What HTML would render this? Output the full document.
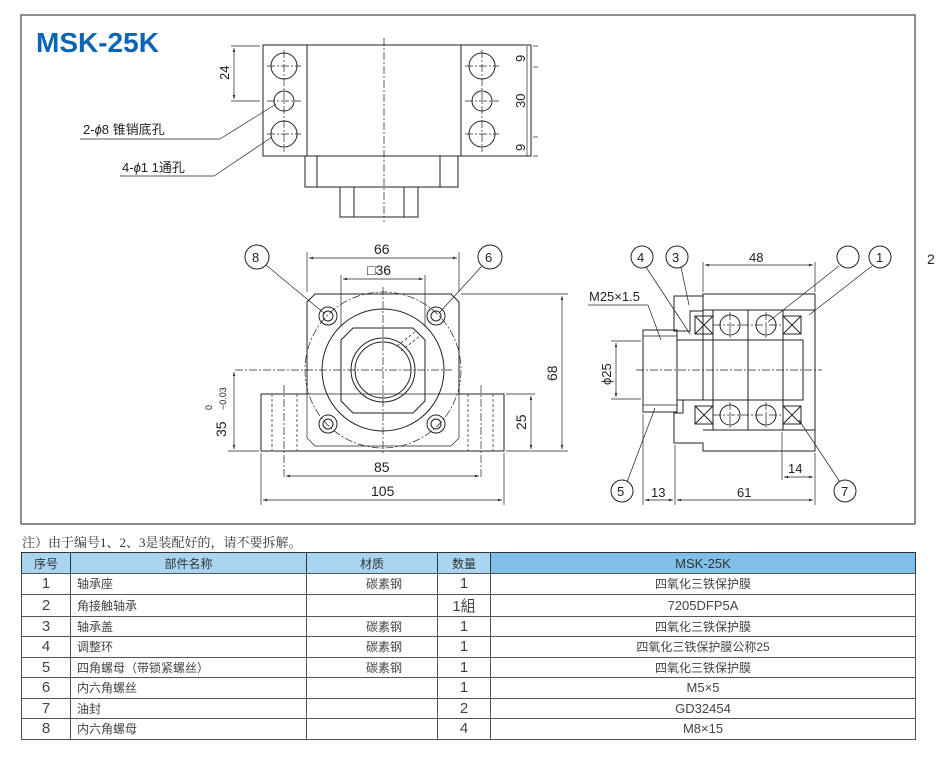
<!DOCTYPE html>
<html><head><meta charset="utf-8"><style>
body{margin:0;background:#fff;width:940px;height:762px;overflow:hidden;font-family:"Liberation Sans","Noto Sans CJK SC",sans-serif}
svg{position:absolute;left:0;top:0}
text{font-family:"Liberation Sans","Noto Sans CJK SC",sans-serif;fill:#222}
.t{stroke:#222;fill:none;stroke-width:1}
.c{stroke:#222;fill:none;stroke-width:0.7;stroke-dasharray:8 2 2 2}
.d{stroke:#222;fill:none;stroke-width:0.7;stroke-dasharray:3 2}
.th{stroke:#222;fill:none;stroke-width:0.7}
</style></head><body>
<svg width="940" height="762" viewBox="0 0 940 762">
<defs><marker id="a" viewBox="0 0 10 10" refX="10" refY="5" markerWidth="6" markerHeight="6" orient="auto-start-reverse"><path d="M0,2 L10,5 L0,8 z" fill="#222"/></marker></defs>
<rect x="21" y="15" width="894" height="509" fill="none" stroke="#444" stroke-width="1.2"/>
<text x="36" y="52" font-size="28" font-weight="bold" fill="#0a66b5" style="fill:#0a66b5">MSK-25K</text>
<text x="927" y="264" font-size="14">2</text>

<!-- top view -->
<rect class="t" x="263" y="45" width="268" height="111"/>
<line class="t" x1="307" y1="45" x2="307" y2="156"/><line class="t" x1="461" y1="45" x2="461" y2="156"/>
<rect class="t" x="305" y="156" width="153" height="31"/>
<line class="t" x1="317" y1="156" x2="317" y2="187"/><line class="t" x1="440" y1="156" x2="440" y2="187"/>
<rect class="t" x="340" y="187" width="78" height="30"/>
<line class="t" x1="354" y1="187" x2="354" y2="217"/><line class="t" x1="404" y1="187" x2="404" y2="217"/>
<line class="c" x1="384" y1="38" x2="384" y2="222"/>
<g class="t">
<circle cx="284" cy="66" r="13"/><circle cx="284" cy="101" r="10"/><circle cx="284" cy="134" r="13"/>
<circle cx="482" cy="66" r="13"/><circle cx="482" cy="101" r="10"/><circle cx="482" cy="134" r="13"/>
</g>
<g class="c"><line x1="284" y1="50" x2="284" y2="152"/><line x1="482" y1="50" x2="482" y2="152"/>
<line x1="267" y1="66" x2="301" y2="66"/><line x1="267" y1="101" x2="301" y2="101"/><line x1="267" y1="134" x2="301" y2="134"/>
<line x1="465" y1="66" x2="499" y2="66"/><line x1="465" y1="101" x2="499" y2="101"/><line x1="465" y1="134" x2="499" y2="134"/></g>
<g class="th"><line x1="231" y1="46" x2="260" y2="46"/><line x1="231" y1="101" x2="260" y2="101"/>
<line x1="234" y1="48" x2="234" y2="99" marker-start="url(#a)" marker-end="url(#a)"/>
<line x1="533" y1="46" x2="538" y2="46"/><line x1="533" y1="67" x2="538" y2="67"/><line x1="533" y1="137" x2="538" y2="137"/><line x1="533" y1="156" x2="538" y2="156"/>
<line x1="527" y1="46" x2="527" y2="156"/>
<line x1="80" y1="139" x2="220" y2="139"/><line x1="220" y1="139" x2="276" y2="104"/>
<line x1="120" y1="176" x2="214" y2="176"/><line x1="214" y1="176" x2="272" y2="137"/></g>
<text transform="translate(229,80) rotate(-90)" font-size="13">24</text>
<text transform="translate(525,62) rotate(-90)" font-size="13">9</text>
<text transform="translate(525,108) rotate(-90)" font-size="13">30</text>
<text transform="translate(525,151) rotate(-90)" font-size="13">9</text>
<text x="83" y="134" font-size="13">2-<tspan font-style="italic">ϕ</tspan>8 锥销底孔</text>
<text x="122" y="172" font-size="13">4-<tspan font-style="italic">ϕ</tspan>1 1通孔</text>

<!-- front view -->
<path class="t" d="M315,294 L451,294 L459,302 L459,394 L504,394 L504,451 L261,451 L261,394 L307,394 L307,302 Z"/>
<path class="th" d="M307,302 L307,438 L315,446 L451,446 L459,438 L459,394"/>
<line class="th" x1="307" y1="394" x2="459" y2="394" stroke-dasharray="0"/>
<circle class="c" cx="383" cy="370" r="78"/>
<circle class="t" cx="383" cy="370" r="61"/>
<path class="t" d="M353,328 L413,328 L425,340 L425,401 L413,413 L353,413 L341,401 L341,340 Z"/>
<circle class="t" cx="383" cy="370" r="32"/><circle class="t" cx="383" cy="370" r="28"/>
<g class="t"><circle cx="328" cy="316" r="9"/><circle cx="328" cy="316" r="5"/><circle cx="436" cy="316" r="9"/><circle cx="436" cy="316" r="5"/>
<circle cx="328" cy="424" r="9"/><circle cx="328" cy="424" r="5"/><circle cx="436" cy="424" r="9"/><circle cx="436" cy="424" r="5"/></g>
<line class="c" x1="235" y1="370" x2="452" y2="370"/><line class="c" x1="383" y1="287" x2="383" y2="455"/>
<g class="d"><line x1="272" y1="394" x2="272" y2="451"/><line x1="297" y1="394" x2="297" y2="451"/><line x1="468" y1="394" x2="468" y2="451"/><line x1="493" y1="394" x2="493" y2="451"/>
<line x1="397" y1="346" x2="416" y2="331"/><line x1="401" y1="351" x2="420" y2="336"/></g>
<g class="c"><line x1="284" y1="385" x2="284" y2="478"/><line x1="481" y1="385" x2="481" y2="478"/></g>
<g class="th">
<line x1="307" y1="252" x2="307" y2="292"/><line x1="459" y1="252" x2="459" y2="292"/>
<line x1="309" y1="258" x2="457" y2="258" marker-start="url(#a)" marker-end="url(#a)"/>
<line x1="341" y1="275" x2="341" y2="326"/><line x1="425" y1="275" x2="425" y2="326"/>
<line x1="343" y1="279" x2="423" y2="279" marker-start="url(#a)" marker-end="url(#a)"/>
<line x1="461" y1="294" x2="568" y2="294"/><line x1="506" y1="451" x2="568" y2="451"/><line x1="506" y1="394" x2="535" y2="394"/>
<line x1="562" y1="296" x2="562" y2="449" marker-start="url(#a)" marker-end="url(#a)"/>
<line x1="531" y1="396" x2="531" y2="449" marker-start="url(#a)" marker-end="url(#a)"/>
<line x1="286" y1="476" x2="479" y2="476" marker-start="url(#a)" marker-end="url(#a)"/>
<line x1="261" y1="453" x2="261" y2="505"/><line x1="504" y1="453" x2="504" y2="505"/>
<line x1="263" y1="500" x2="502" y2="500" marker-start="url(#a)" marker-end="url(#a)"/>
<line x1="228" y1="451" x2="259" y2="451"/>
<line x1="234" y1="372" x2="234" y2="449" marker-start="url(#a)" marker-end="url(#a)"/>
<line x1="266" y1="265" x2="325" y2="314"/><line x1="482" y1="266" x2="439" y2="313"/>
</g>
<circle class="t" cx="257" cy="257" r="12"/><text x="252" y="262" font-size="13">8</text>
<circle class="t" cx="490" cy="257" r="12"/><text x="485" y="262" font-size="13">6</text>
<text x="374" y="254" font-size="14">66</text>
<text x="367" y="275" font-size="14">□36</text>
<text transform="translate(557,381) rotate(-90)" font-size="14">68</text>
<text transform="translate(526,430) rotate(-90)" font-size="14">25</text>
<text x="374" y="472" font-size="14">85</text>
<text x="371" y="496" font-size="14">105</text>
<text transform="translate(226,437) rotate(-90)" font-size="14">35</text>
<text transform="translate(212,410) rotate(-90)" font-size="9">0</text>
<text transform="translate(226,410) rotate(-90)" font-size="9">−0.03</text>

<!-- side view -->
<path class="t" d="M703,294 L815,294 L815,451 L703,451 L703,443 L674,443 L674,413 L683,413 L683,400 L703,400 Z"/>
<path class="t" d="M674,296 L703,296 L703,311 L690,311 L690,331 L674,331 Z"/>
<path class="t" d="M703,294 L703,311"/>
<line class="t" x1="703" y1="310" x2="815" y2="310"/><line class="t" x1="703" y1="430" x2="815" y2="430"/>
<rect class="t" x="643" y="330" width="34" height="82"/>
<line class="th" x1="643" y1="336" x2="677" y2="336"/><line class="th" x1="643" y1="405" x2="677" y2="405"/>
<rect class="t" x="677" y="340" width="126" height="60"/>
<line class="t" x1="713" y1="310" x2="713" y2="430"/><line class="t" x1="748" y1="310" x2="748" y2="430"/><line class="t" x1="783" y1="310" x2="783" y2="430"/>
<g class="t"><rect x="695" y="316" width="18" height="18"/><path d="M695,316 L713,334 M713,316 L695,334"/>
<rect x="783" y="316" width="18" height="18"/><path d="M783,316 L801,334 M801,316 L783,334"/>
<rect x="695" y="406" width="18" height="18"/><path d="M695,406 L713,424 M713,406 L695,424"/>
<rect x="783" y="406" width="18" height="18"/><path d="M783,406 L801,424 M801,406 L783,424"/>
<circle cx="730" cy="325" r="10"/><circle cx="766" cy="325" r="10"/><circle cx="730" cy="415" r="10"/><circle cx="766" cy="415" r="10"/></g>
<g class="c"><line x1="636" y1="370" x2="822" y2="370"/><line x1="713" y1="325" x2="783" y2="325"/><line x1="713" y1="415" x2="783" y2="415"/>
<line x1="730" y1="312" x2="730" y2="338"/><line x1="766" y1="312" x2="766" y2="338"/><line x1="730" y1="402" x2="730" y2="428"/><line x1="766" y1="402" x2="766" y2="428"/></g>
<g class="th">
<line x1="703" y1="262" x2="703" y2="292"/><line x1="815" y1="262" x2="815" y2="292"/>
<line x1="705" y1="265" x2="813" y2="265" marker-start="url(#a)" marker-end="url(#a)"/>
<line x1="782" y1="432" x2="782" y2="480"/><line x1="815" y1="453" x2="815" y2="505"/>
<line x1="784" y1="477" x2="813" y2="477" marker-start="url(#a)" marker-end="url(#a)"/>
<line x1="675" y1="445" x2="675" y2="505"/><line x1="643" y1="414" x2="643" y2="505"/>
<line x1="677" y1="500" x2="813" y2="500" marker-start="url(#a)" marker-end="url(#a)"/>
<line x1="645" y1="500" x2="673" y2="500" marker-start="url(#a)" marker-end="url(#a)"/>
<line x1="611" y1="341" x2="641" y2="341"/><line x1="611" y1="399" x2="641" y2="399"/>
<line x1="616" y1="343" x2="616" y2="397" marker-start="url(#a)" marker-end="url(#a)"/>
<line x1="588" y1="305" x2="648" y2="305"/><line x1="648" y1="305" x2="661" y2="340"/>
<line x1="646" y1="267" x2="690" y2="334"/><line x1="681" y1="267" x2="689" y2="305"/>
<line x1="839" y1="266" x2="768" y2="322"/><line x1="872" y1="266" x2="809" y2="315"/>
<line x1="627" y1="482" x2="655" y2="408"/><line x1="840" y1="482" x2="799" y2="420"/>
</g>
<g class="t"><circle cx="642" cy="257" r="11"/><circle cx="677" cy="257" r="11"/><circle cx="848" cy="257" r="11"/><circle cx="880" cy="257" r="11"/><circle cx="622" cy="491" r="11"/><circle cx="845" cy="491" r="11"/></g>
<text x="637" y="262" font-size="13">4</text><text x="672" y="262" font-size="13">3</text><text x="876" y="262" font-size="13">1</text>
<text x="617" y="496" font-size="13">5</text><text x="841" y="496" font-size="13">7</text>
<text x="749" y="262" font-size="13">48</text><text x="788" y="473" font-size="13">14</text>
<text x="737" y="497" font-size="13">61</text><text x="651" y="497" font-size="13">13</text>
<text x="589" y="301" font-size="13">M25×1.5</text>
<text transform="translate(611,385) rotate(-90)" font-size="13">ϕ25</text>
</svg>

<div style="position:absolute;left:22px;top:532px;font-size:13px;color:#333;font-family:'Liberation Serif','Noto Serif CJK SC',serif">注）由于编号1、2、3是装配好的，请不要拆解。</div>
<table style="position:absolute;left:21px;top:552px;width:895px;border-collapse:collapse;font-size:12px;color:#333">
<colgroup><col style="width:49px"><col style="width:236px"><col style="width:131px"><col style="width:53px"><col></colgroup>
<tr style="height:21px;background:#a9d5f0"><td style="border:1px solid #333;text-align:center">序号</td><td style="border:1px solid #333;text-align:center">部件名称</td><td style="border:1px solid #333;text-align:center">材质</td><td style="border:1px solid #333;text-align:center">数量</td><td style="border:1px solid #333;text-align:center;background:#7fbfe8;font-size:13px">MSK-25K</td></tr>
</table>
<style>.r td{border:1px solid #555;height:19.5px;padding:0 6px}.r td:nth-child(1),.r td:nth-child(4){text-align:center;font-size:15px}.r td:nth-child(3){text-align:center;padding-left:30px}.r td:nth-child(5){text-align:center}</style>
<table class="r" style="position:absolute;left:21px;top:573px;width:895px;border-collapse:collapse;font-size:12px;color:#444">
<colgroup><col style="width:49px"><col style="width:236px"><col style="width:131px"><col style="width:53px"><col></colgroup>
<tr><td>1</td><td>轴承座</td><td>碳素钢</td><td>1</td><td>四氧化三铁保护膜</td></tr>
<tr><td>2</td><td>角接触轴承</td><td></td><td>1組</td><td style="font-size:13px">7205DFP5A</td></tr>
<tr><td>3</td><td>轴承盖</td><td>碳素钢</td><td>1</td><td>四氧化三铁保护膜</td></tr>
<tr><td>4</td><td>调整环</td><td>碳素钢</td><td>1</td><td>四氧化三铁保护膜公称25</td></tr>
<tr><td>5</td><td>四角螺母（带锁紧螺丝）</td><td>碳素钢</td><td>1</td><td>四氧化三铁保护膜</td></tr>
<tr><td>6</td><td>内六角螺丝</td><td></td><td>1</td><td style="font-size:13px">M5×5</td></tr>
<tr><td>7</td><td>油封</td><td></td><td>2</td><td style="font-size:13px">GD32454</td></tr>
<tr><td>8</td><td>内六角螺母</td><td></td><td>4</td><td style="font-size:13px">M8×15</td></tr>
</table>
</body></html>
